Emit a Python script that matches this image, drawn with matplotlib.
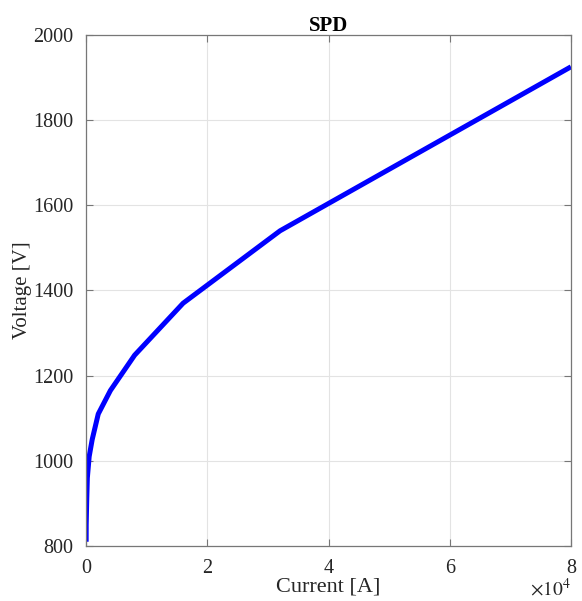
import matplotlib
matplotlib.use("Agg")
import matplotlib.pyplot as plt
from matplotlib.ticker import FuncFormatter

# SPD V-I characteristic
current = [1, 10, 100, 200, 500, 1000, 2000, 4000, 8000, 16000, 32000, 80000]
voltage = [810, 850, 910, 960, 1010, 1050, 1110, 1165, 1248, 1370, 1540, 1925]

x_ticks = [0, 20000, 40000, 60000, 80000]
y_ticks = [800, 1000, 1200, 1400, 1600, 1800, 2000]

plt.rcParams['font.family'] = ['Liberation Serif', 'DejaVu Serif']
plt.rcParams['mathtext.fontset'] = 'stix'

fig = plt.figure(figsize=(5.82, 6.01), dpi=100)
ax = fig.add_axes([0.148, 0.0915, 0.833, 0.8505])

ax.plot(current, voltage, color='#0000ff', linewidth=3.6, solid_capstyle='butt')

ax.set_xlim(0, 80000)
ax.set_ylim(800, 2000)
ax.set_xticks(x_ticks)
ax.set_yticks(y_ticks)
ax.xaxis.set_major_formatter(FuncFormatter(lambda v, p: f"{v/1e4:g}"))

ax.grid(True, color='#e3e3e3', linewidth=0.8)
ax.set_axisbelow(True)
for spine in ax.spines.values():
    spine.set_color('#777777')
    spine.set_linewidth(0.9)
ax.tick_params(direction='in', top=True, right=True, length=5, color='#777777',
               labelsize=14.5, labelcolor='#262626')
ax.tick_params(axis='x', pad=9)
ax.tick_params(axis='y', pad=9)

ax.set_title("SPD", fontsize=15, fontweight='bold', pad=3)
ax.set_xlabel("Current [A]", fontsize=16, color='#262626', labelpad=0)
ax.set_ylabel("Voltage [V]", fontsize=15, color='#262626', labelpad=1)
ax.text(1.0, -0.062, r"$\times10^{4}$", transform=ax.transAxes, ha='right', va='top',
        fontsize=14, color='#262626')

fig.savefig("out.png", dpi=100)
